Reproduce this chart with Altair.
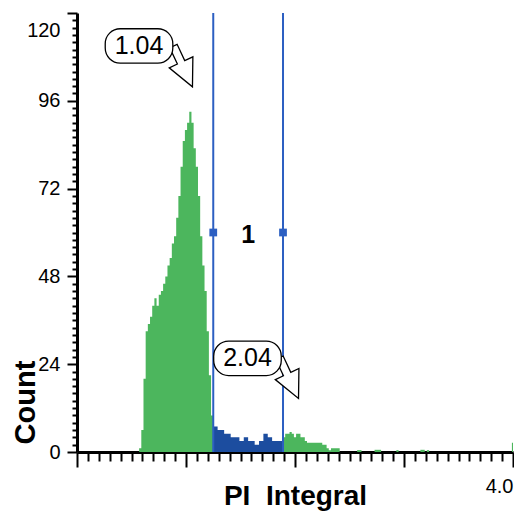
import altair as alt
import pandas as pd

FONT = "Liberation Sans"
GREEN = "#4cb65d"
BLUE = "#1c4d9f"
GATE = "#2c5fc2"

# ---- histogram data (bins of width 0.02 starting at 0.57) ----
bin_start0 = 0.57
bin_width = 0.02
main_counts = [1, 6, 20, 33, 35, 37, 40, 42, 40, 43, 44, 46, 48, 51, 53, 57, 59, 64,
               70, 78, 85, 88, 90, 93, 90, 83, 78, 70, 59, 51, 44, 33, 21, 10,
               7, 7, 6, 6, 6, 5, 5, 5, 4, 4, 4, 4, 3, 3, 4, 4, 3, 3, 3, 2, 2, 3, 3,
               5, 5, 4, 4, 3, 3, 3, 3, 3,
               4, 5, 5, 5.5, 5, 4, 5, 5, 4, 4, 3, 2.5, 2.5, 2.5, 2.5, 2.5, 2.5, 2.5,
               2, 2, 1, 0.5, 1, 1, 1, 1]
tail_bins = [100, 101, 108, 109, 110, 118, 129, 130, 132, 171]
tail_counts = [0.5, 0.5, 0.6, 0.6, 0.6, 0.5, 0.6, 0.6, 0.5, 2.5]

# ---- gate ----
gate_x = [1.25, 1.89]
gate_marker_y = [60, 60]
gate_label = ["1"]
gate_label_x = [1.57]
gate_label_y = [59.3]

# ---- peak callouts ----
callout_text = ["1.04", "2.04"]
callout_cx = [0.569, 1.564]
callout_cy = [111.0, 25.6]
arrow_x = [0.972, 1.945]
arrow_y = [105.4, 20.2]

# ---- axis ticks ----
x_major = [0, 1, 2, 3, 4]
x_minor = [i / 10 for i in range(41) if i % 10]
y_major = [0, 24, 48, 72, 96, 120]
y_minor = [v for v in range(0, 121, 2) if v % 24]

# build step-area segments (contiguous runs of bins in the same region)
bins = list(zip(list(range(len(main_counts))) + tail_bins, main_counts + tail_counts))
rows = []
seg = 0
prev_i, prev_region = None, None
last = None
for i, c in bins:
    x0 = round(bin_start0 + i * bin_width, 4)
    region = "gate" if gate_x[0] <= x0 < gate_x[1] - 1e-6 else "out"
    if prev_i is None or i != prev_i + 1 or region != prev_region:
        if last is not None:
            rows.append({"x": round(last[0] + bin_width, 4), "count": last[1],
                         "seg": f"s{seg}", "region": prev_region})
        seg += 1
    rows.append({"x": x0, "count": c, "seg": f"s{seg}", "region": region})
    prev_i, prev_region, last = i, region, (x0, c)
rows.append({"x": round(last[0] + bin_width, 4), "count": last[1],
             "seg": f"s{seg}", "region": prev_region})
hist_df = pd.DataFrame(rows)

xs = alt.Scale(domain=[0, 4], nice=False, zero=False)
ys = alt.Scale(domain=[0, 120], nice=False)
col_scale = alt.Scale(domain=["out", "gate"], range=[GREEN, BLUE])

major_x = alt.Axis(values=x_major, tickSize=15, tickWidth=2, tickColor="black",
                   domainColor="black", domainWidth=3, grid=False,
                   labelExpr="datum.value == 4 ? '4.0' : ''", labelFlush=True,
                   labelFont=FONT, labelFontSize=20, labelColor="black", labelPadding=9,
                   title="PI\u00a0\u00a0Integral", titleFont=FONT, titleFontSize=28,
                   titleFontWeight="bold", titleColor="black", titleY=52,
                   titleBaseline="alphabetic")
minor_x = alt.Axis(values=x_minor, tickSize=9, tickWidth=2, tickColor="black",
                   domain=False, labels=False, title=None, grid=False, orient="bottom")
major_y = alt.Axis(values=y_major, tickSize=10, tickWidth=2, tickColor="black",
                   domainColor="black", domainWidth=3, grid=False,
                   labelFont=FONT, labelFontSize=20, labelColor="black", labelPadding=7,
                   labelOffset={"condition": {"test": "datum.value == 120", "value": 17}, "value": 0},
                   title="Count", titleFont=FONT, titleFontSize=29, titleFontWeight="bold",
                   titleColor="black", titleAngle=270, titleX=-52, titleY=389,
                   titleAlign="center", titleBaseline="middle")
minor_y = alt.Axis(values=y_minor, tickSize=5, tickWidth=2, tickColor="black",
                   domain=False, labels=False, title=None, grid=False, orient="left")

hist = alt.Chart(hist_df).mark_area(clip=True, interpolate="step-after", opacity=1).encode(
    x=alt.X("x:Q", scale=xs, axis=major_x),
    y=alt.Y("count:Q", scale=ys, axis=major_y, stack=None),
    color=alt.Color("region:N", scale=col_scale, legend=None),
    detail="seg:N",
)

gate_df = pd.DataFrame({"g": gate_x, "gy": gate_marker_y})
rules = alt.Chart(gate_df).mark_rule(color=GATE, strokeWidth=2).encode(
    x=alt.X("g:Q", scale=xs, axis=minor_x)
)
markers = alt.Chart(gate_df).mark_point(shape="square", filled=True, size=60,
                                        color=GATE, opacity=1).encode(
    x=alt.X("g:Q", scale=xs, axis=None),
    y=alt.Y("gy:Q", scale=ys, axis=minor_y),
)
glabel = alt.Chart(pd.DataFrame({"t": gate_label, "x": gate_label_x, "y": gate_label_y})).mark_text(
    font=FONT, fontSize=25, fontWeight="bold", color="black", baseline="middle"
).encode(
    x=alt.X("x:Q", scale=xs, axis=None),
    y=alt.Y("y:Q", scale=ys, axis=None),
    text="t:N",
)

ARROW = "M -0.18 -1 L 0.18 -1 L 0.18 -0.2 L 0.58 -0.2 L 0 1 L -0.58 -0.2 L -0.18 -0.2 Z"
arrows = alt.Chart(pd.DataFrame({"x": arrow_x, "y": arrow_y})).mark_point(
    shape=ARROW, size=2025, filled=True, fill="white", stroke="black",
    strokeWidth=1.3, angle=335, opacity=1
).encode(
    x=alt.X("x:Q", scale=xs, axis=None),
    y=alt.Y("y:Q", scale=ys, axis=None),
)

call_df = pd.DataFrame({"t": callout_text, "cx": callout_cx, "cy": callout_cy})
boxes = alt.Chart(call_df).transform_calculate(
    bx0="datum.cx - 0.31", bx1="datum.cx + 0.31",
    by0="datum.cy - 4.7", by1="datum.cy + 4.7"
).mark_rect(cornerRadius=15, fill="white", stroke="black", strokeWidth=1.3).encode(
    x=alt.X("bx0:Q", scale=xs, axis=None),
    x2="bx1:Q",
    y=alt.Y("by0:Q", scale=ys, axis=None),
    y2="by1:Q",
)
btext = alt.Chart(call_df).mark_text(font=FONT, fontSize=25, color="black",
                                     baseline="middle", align="center").encode(
    x=alt.X("cx:Q", scale=xs, axis=None),
    y=alt.Y("cy:Q", scale=ys, axis=None),
    text="t:N",
)

chart = alt.layer(hist, rules, markers, glabel, arrows, boxes, btext).resolve_axis(
    x="independent", y="independent"
).properties(
    width=436, height=439,
    autosize=alt.AutoSizeParams(type="none"),
    padding={"left": 77, "top": 13, "right": 1, "bottom": 59},
    background="white",
).configure_view(stroke=None)

chart.save("out.html", embed_options={"renderer": "svg", "actions": False})
